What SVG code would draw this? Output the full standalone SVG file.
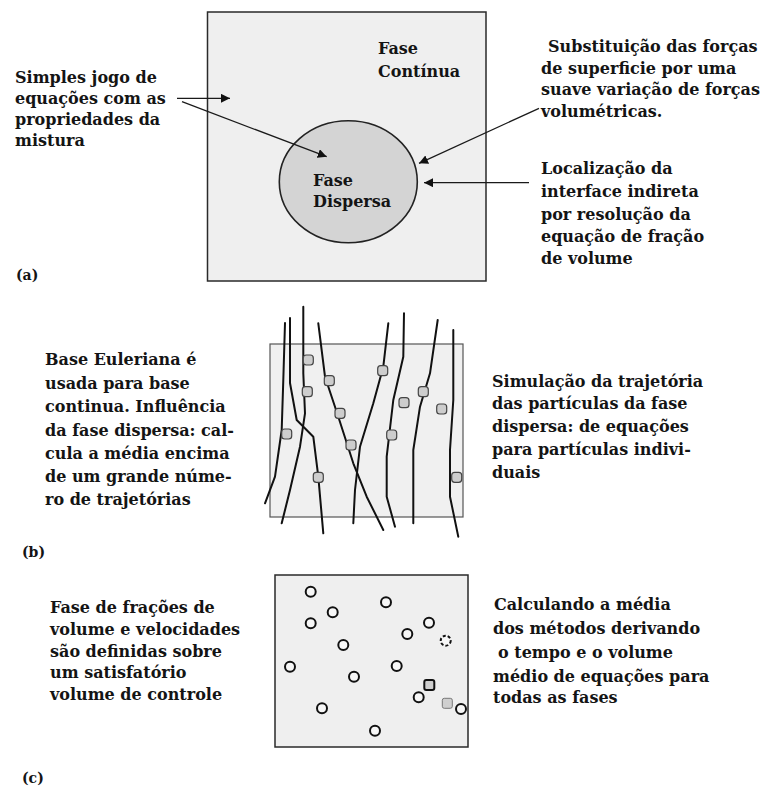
<svg xmlns="http://www.w3.org/2000/svg" width="768" height="788" viewBox="0 0 768 788">
<defs>
<marker id="ah" viewBox="0 0 10 10" refX="10" refY="5" markerWidth="9" markerHeight="9" markerUnits="userSpaceOnUse" orient="auto">
<path d="M0,0 L10,5 L0,10 z" fill="#111"/>
</marker>
<style>
text{font-family:"DejaVu Serif","Liberation Serif",serif;font-weight:bold;font-size:16px;fill:#141414}
.lbl{font-size:14px}
.box{fill:#efefef;stroke:#2a2a2a;stroke-width:1.5}
.boxb{fill:#f0f0f0;stroke:#555;stroke-width:1.2}
.arr{stroke:#1a1a1a;stroke-width:1.3;fill:none;marker-end:url(#ah)}
.traj{fill:none;stroke:#111;stroke-width:2;stroke-linejoin:round;stroke-linecap:round}
.part{fill:#cdcdcd;stroke:#444;stroke-width:1.2}
.bub{fill:#f7f7f7;stroke:#111;stroke-width:2}
</style>
</defs>
<rect width="768" height="788" fill="#ffffff"/>

<!-- Panel (a) -->
<g id="panel-a">
<rect class="box" x="207.5" y="12" width="278.5" height="269"/>
<ellipse cx="348.3" cy="181.7" rx="69" ry="61" fill="#d4d4d4" stroke="#222" stroke-width="1.6"/>
<text x="378" y="54">Fase</text>
<text x="378" y="77">Contínua</text>
<text x="313" y="186">Fase</text>
<text x="313" y="207">Dispersa</text>
</g>
<g id="text-a-left">
<text x="15" y="83">Simples jogo de</text>
<text x="15" y="104">equações com as</text>
<text x="15" y="125">propriedades da</text>
<text x="15" y="146">mistura</text>
</g>
<g id="text-a-right1">
<text x="548" y="52">Substituição das forças</text>
<text x="541" y="74">de superficie por uma</text>
<text x="541" y="95">suave variação de forças</text>
<text x="541" y="117">volumétricas.</text>
</g>
<g id="text-a-right2">
<text x="541" y="174">Localização da</text>
<text x="541" y="197">interface indireta</text>
<text x="541" y="220">por resolução da</text>
<text x="541" y="242">equação de fração</text>
<text x="541" y="264">de volume</text>
</g>
<text class="lbl" x="16" y="280">(a)</text>

<g id="connectors">
<line class="arr" x1="177" y1="98.3" x2="230" y2="98.3"/>
<line class="arr" x1="182" y1="101.7" x2="326.7" y2="156.7"/>
<line class="arr" x1="539" y1="108.3" x2="419" y2="163.3"/>
<line class="arr" x1="529" y1="182.7" x2="424" y2="182.7"/>
</g>

<!-- Panel (b) -->
<g id="panel-b">
<rect class="boxb" x="270" y="344" width="193" height="173"/>
<g id="trajectories">
<polyline class="traj" points="285,323 283.3,380 281.7,430 275,476.7 265,503.3"/>
<polyline class="traj" points="290,318 290,383 296.7,420 313.3,436.7 318.3,476.7 323.3,533.3"/>
<polyline class="traj" points="303.3,306.7 303.3,373.3 305,413.3 300,446.7 290,490 281.7,523.3"/>
<polyline class="traj" points="318.3,323.3 325,376.7 338.3,416.7 353.3,463.3 366.7,496.7 383.3,530"/>
<polyline class="traj" points="388.3,323.3 383.3,366.7 373.3,403.3 360,446.7 355,490 353.3,523.3"/>
<polyline class="traj" points="404,313.3 403.3,356.7 393.3,400 386.7,456.7 386.7,496.7 395,526.7"/>
<polyline class="traj" points="437.7,320 430,373.3 420,406.7 413.3,450 413.3,523.3"/>
<polyline class="traj" points="453.3,330 453.3,400 450,450 450,496.7 458.3,536.7"/>
</g>
<g id="particles">
<rect class="part" x="303.3" y="355" width="10" height="10" rx="3"/>
<rect class="part" x="302.3" y="386.7" width="10" height="10" rx="3"/>
<rect class="part" x="324.3" y="375.7" width="10" height="10" rx="3"/>
<rect class="part" x="335" y="408.3" width="10" height="10" rx="3"/>
<rect class="part" x="281.7" y="429" width="10" height="10" rx="3"/>
<rect class="part" x="346" y="440" width="10" height="10" rx="3"/>
<rect class="part" x="313.3" y="472.3" width="10" height="10" rx="3"/>
<rect class="part" x="377.7" y="365.7" width="10" height="10" rx="3"/>
<rect class="part" x="399" y="397.7" width="10" height="10" rx="3"/>
<rect class="part" x="418.3" y="386.7" width="10" height="10" rx="3"/>
<rect class="part" x="436.7" y="404" width="10" height="10" rx="3"/>
<rect class="part" x="386.7" y="430" width="10" height="10" rx="3"/>
<rect class="part" x="451.7" y="472.3" width="10" height="10" rx="3"/>
</g>
</g>
<g id="text-b-left">
<text x="45" y="365">Base Euleriana é</text>
<text x="45" y="389">usada para base</text>
<text x="45" y="412">continua. Influência</text>
<text x="45" y="436">da fase dispersa: cal-</text>
<text x="45" y="459">cula a média encima</text>
<text x="45" y="482">de um grande núme-</text>
<text x="45" y="505">ro de trajetórias</text>
</g>
<g id="text-b-right">
<text x="492" y="387">Simulação da trajetória</text>
<text x="492" y="409">das partículas da fase</text>
<text x="492" y="432">dispersa: de equações</text>
<text x="492" y="455">para partículas indivi-</text>
<text x="492" y="478">duais</text>
</g>
<text class="lbl" x="22" y="557">(b)</text>

<!-- Panel (c) -->
<g id="panel-c">
<rect class="box" x="275" y="575" width="193" height="172"/>
<g id="bubbles">
<circle class="bub" cx="310.7" cy="591.7" r="5"/>
<circle class="bub" cx="386" cy="602.3" r="5"/>
<circle class="bub" cx="332.7" cy="612.3" r="5"/>
<circle class="bub" cx="310.7" cy="623.3" r="5"/>
<circle class="bub" cx="429" cy="622.7" r="5"/>
<circle class="bub" cx="407.3" cy="634" r="5"/>
<circle class="bub" cx="445.7" cy="640.7" r="5" stroke-dasharray="3 2"/>
<circle class="bub" cx="343.3" cy="645" r="5"/>
<circle class="bub" cx="290" cy="666.7" r="5"/>
<circle class="bub" cx="396.7" cy="666" r="5"/>
<circle class="bub" cx="354" cy="676.7" r="5"/>
<rect x="424.3" y="680" width="10" height="10" rx="2" fill="#cfcfcf" stroke="#111" stroke-width="2"/>
<circle class="bub" cx="418.7" cy="697.3" r="5"/>
<rect x="442.3" y="698.3" width="10" height="10" rx="2" fill="#cfcfcf" stroke="#777" stroke-width="1"/>
<circle class="bub" cx="461" cy="709" r="5"/>
<circle class="bub" cx="322" cy="708.3" r="5"/>
<circle class="bub" cx="375" cy="730.7" r="5"/>
</g>
</g>
<g id="text-c-left">
<text x="50" y="613">Fase de frações de</text>
<text x="50" y="635">volume e velocidades</text>
<text x="50" y="657">são definidas sobre</text>
<text x="50" y="678">um satisfatório</text>
<text x="50" y="700">volume de controle</text>
</g>
<g id="text-c-right">
<text x="494" y="610">Calculando a média</text>
<text x="493" y="634">dos métodos derivando</text>
<text x="498" y="658">o tempo e o volume</text>
<text x="493" y="682">médio de equações para</text>
<text x="493" y="703">todas as fases</text>
</g>
<text class="lbl" x="22" y="783">(c)</text>
</svg>
